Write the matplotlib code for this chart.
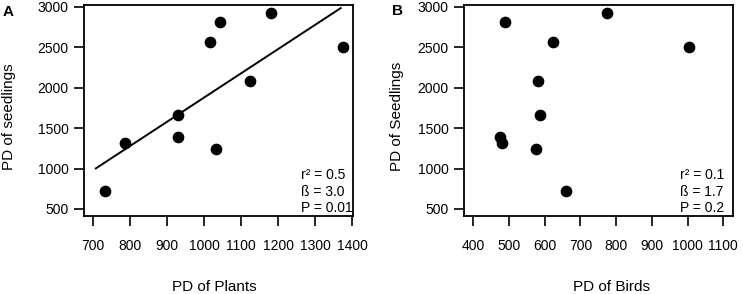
import numpy as np
import matplotlib
matplotlib.use('Agg')
import matplotlib.pyplot as plt

plt.rcParams['font.family'] = ['Liberation Sans', 'DejaVu Sans']

# PD values
pd_seedlings = [726, 1320, 1394, 1666, 2561, 2808, 1242, 2078, 2919, 2506]
pd_plants = [733, 786, 928, 928, 1016, 1044, 1032, 1123, 1180, 1376]
pd_birds = [659, 480, 475, 587, 624, 489, 576, 582, 775, 1005]

plants_ticks = [700, 800, 900, 1000, 1100, 1200, 1300, 1400]
birds_ticks = [400, 500, 600, 700, 800, 900, 1000, 1100]
seed_ticks = [500, 1000, 1500, 2000, 2500, 3000]

fit_range_plants = [707, 1369]

stats_a = ['r² = 0.5', 'ß = 3.0', 'P = 0.01']
stats_b = ['r² = 0.1', 'ß = 1.7', 'P = 0.2']


def style_axis(ax, xticks, xlim):
    ax.set_xlim(xlim)
    ax.set_ylim(413, 3021)
    ax.set_xticks(xticks)
    ax.set_yticks(seed_ticks)
    ax.tick_params(axis='both', direction='out', length=7.5, width=1.2,
                   labelsize=10, color='black')
    ax.tick_params(axis='x', pad=9)
    ax.tick_params(axis='y', pad=3.5)
    for sp in ax.spines.values():
        sp.set_linewidth(1.3)


def add_stats(ax, lines, x0):
    for txt, yy in zip(lines, [0.194, 0.114, 0.036]):
        ax.text(x0, yy, txt, transform=ax.transAxes, fontsize=10,
                ha='left', va='center')


fig = plt.figure(figsize=(7.43, 2.94), dpi=100)
ax_a = fig.add_axes([84 / 743, 1 - 216 / 294, 269.3 / 743, 211 / 294])
ax_b = fig.add_axes([464 / 743, 1 - 216 / 294, 269.3 / 743, 211 / 294])

# panel A
ax_a.scatter(pd_plants, pd_seedlings, s=55, color='black', zorder=3)
slope, icpt = np.polyfit(pd_plants, pd_seedlings, 1)
xx = np.array(fit_range_plants)
ax_a.plot(xx, icpt + slope * xx, color='black', lw=1.4)
style_axis(ax_a, plants_ticks, (675, 1403))
ax_a.set_xlabel('PD of Plants', fontsize=11, va='center')
ax_a.xaxis.set_label_coords(0.485, -0.336)
ax_a.set_ylabel('PD of seedlings', fontsize=11, va='center')
ax_a.yaxis.set_label_coords(-0.278, 0.47)
add_stats(ax_a, stats_a, 0.806)
fig.text(8.5 / 743, 1 - 11.5 / 294, 'A', fontsize=11, fontweight='bold',
         ha='center', va='center')

# panel B
ax_b.scatter(pd_birds, pd_seedlings, s=55, color='black', zorder=3)
style_axis(ax_b, birds_ticks, (374, 1128))
ax_b.set_xlabel('PD of Birds', fontsize=11, va='center')
ax_b.xaxis.set_label_coords(0.546, -0.336)
ax_b.set_ylabel('PD of Seedlings', fontsize=11, va='center')
ax_b.yaxis.set_label_coords(-0.25, 0.474)
add_stats(ax_b, stats_b, 0.802)
fig.text(397.5 / 743, 1 - 11 / 294, 'B', fontsize=11, fontweight='bold',
         ha='center', va='center')

fig.savefig('out.png', dpi=100)
